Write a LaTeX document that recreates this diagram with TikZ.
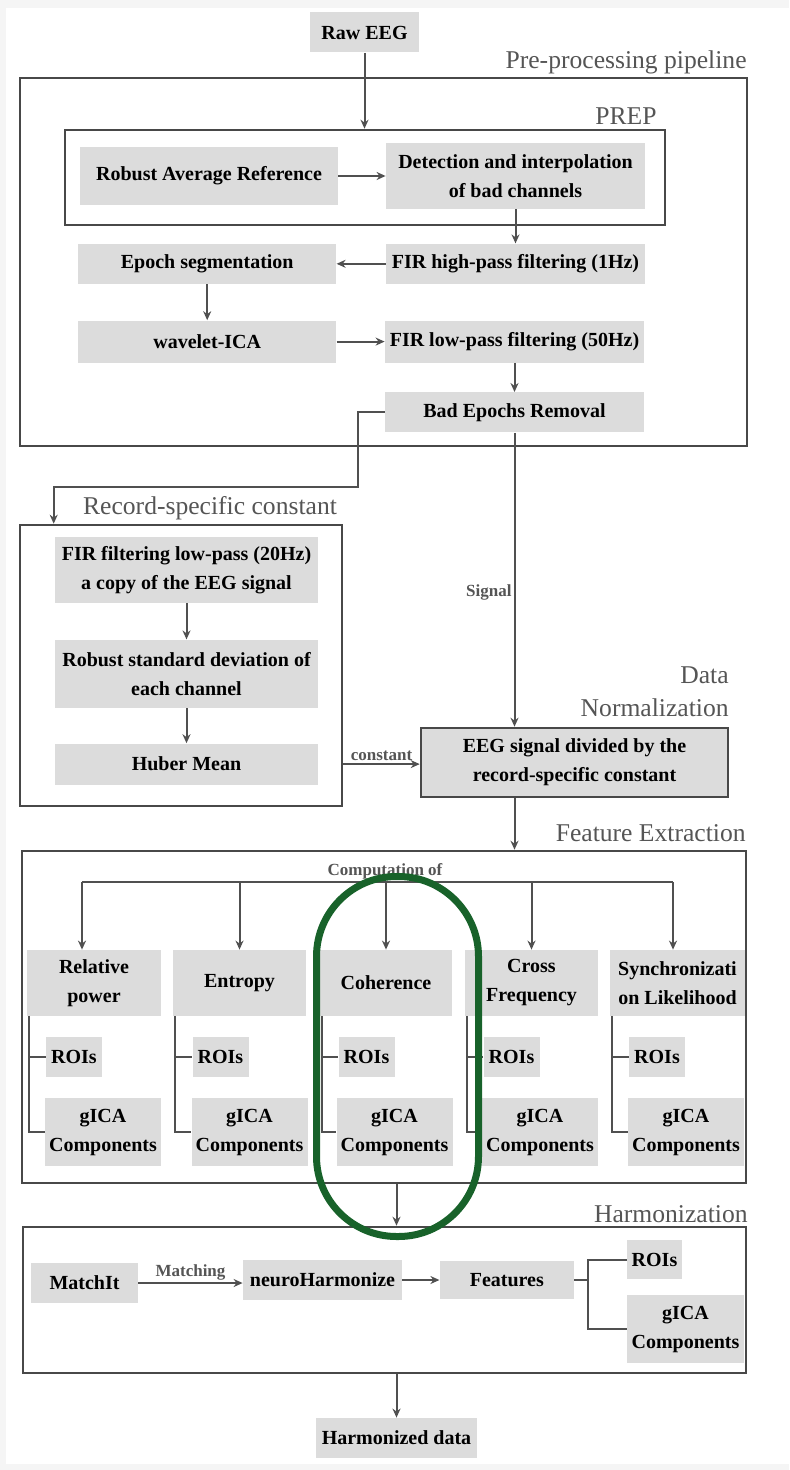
\documentclass[tikz,border=0pt]{standalone}
\usepackage{fontspec}
\setmainfont{Liberation Serif}
\usetikzlibrary{arrows.meta,positioning,calc}

\definecolor{boxgray}{RGB}{220,220,220}
\definecolor{linegray}{RGB}{80,80,80}
\definecolor{framegray}{RGB}{72,72,72}
\definecolor{labelgray}{RGB}{85,85,85}
\definecolor{ringgreen}{RGB}{24,98,42}

\tikzset{
  >={Stealth[length=4.5pt,width=4pt]},
  rectnode/.style args={#1,#2}{
  fill=boxgray,
  text=black,
  font=\fontsize{10}{14.5}\selectfont\bfseries,
  align=center,
  inner sep=0pt,
  minimum width=#1*0.5pt,
  minimum height=#2*0.5pt,
  },
  framenode/.style args={#1,#2}{
  draw=framegray,
  line width=1.3pt,
  inner sep=0pt,
  minimum width=#1*0.5pt,
  minimum height=#2*0.5pt,
  },
  conn/.style={draw=linegray,line width=1pt},
  grouplabel/.style={text=labelgray,font=\fontsize{12.8}{16.5}\selectfont,inner sep=0pt},
  edgelabel/.style={text=labelgray,font=\fontsize{8.5}{10}\selectfont\bfseries,inner sep=1pt}
}

\begin{document}
\begin{tikzpicture}[x=0.5pt,y=-0.5pt]

  \fill[black!4] (0,0) rectangle (789,1470);
  \fill[white] (6,8) rectangle (789,1464);
  \useasboundingbox (0,0) rectangle (789,1470);

  \node [rectnode={109,40}] (raw) at (364.5,32.5) {Raw EEG};

  % pre-processing
  \node [framenode={727,368}] (pre) at (383.5,262) {};
  \node [grouplabel,anchor=east] (prelbl) at (747,62) {Pre-processing pipeline};
  \node [framenode={600,95}] (prep) at (365,177.5) {};
  \node [grouplabel,anchor=east] (preplbl) at (657,116) {PREP};

  \node [rectnode={258,58}] (rar) at (209,176) {Robust Average Reference};
  \node [rectnode={259,66}] (det) at (515.5,176) {Detection and interpolation\\of bad channels};
  \node [rectnode={259,40},below=17pt of det] (hp) {FIR high-pass filtering (1Hz)};
  \node [rectnode={258,40},left=24.5pt of hp] (epo) {Epoch segmentation};
  \node [rectnode={258,42},below=18pt of epo] (wica) {wavelet-ICA};
  \node [rectnode={259,42},right=24pt of wica] (lp) {FIR low-pass filtering (50Hz)};
  \node [rectnode={259,40},below=14.5pt of lp] (bad) {Bad Epochs Removal};

  \draw [conn,->] (raw) -- (raw |- prep.north);
  \draw [conn,->] (rar) -- (det);
  \draw [conn,->] (det) -- (hp);
  \draw [conn,->] (hp) -- (epo);
  \draw [conn,->] (epo) -- (wica);
  \draw [conn,->] (wica) -- (lp);
  \draw [conn,->] (lp) -- (bad);

  % record-specific constant
  \node [framenode={322,281}] (rec) at (181,665.5) {};
  \node [grouplabel] (reclbl) at (210,508) {Record-specific constant};
  \node [rectnode={263,66}] (lpc) at (186.5,570) {FIR filtering low-pass (20Hz)\\a copy of the EEG signal};
  \node [rectnode={263,68},below=18pt of lpc] (rsd) {Robust standard deviation of\\each channel};
  \node [rectnode={263,41},below=17.5pt of rsd] (hub) {Huber Mean};

  \draw [conn,->] (bad.west) -- ++(-27,0) |- ([xshift=17.5pt,yshift=18.5pt]rec.north west) -- ([xshift=17.5pt]rec.north west);
  \draw [conn,->] (lpc) -- (rsd);
  \draw [conn,->] (rsd) -- (hub);

  % normalization
  \node [rectnode={307,69},draw=framegray,line width=1.3pt] (div) at (574.5,762.5) {EEG signal divided by the\\record-specific constant};
  \node [grouplabel,align=right,anchor=east] (normlbl) at (729,692) {Data\\Normalization};

  \draw [conn,->] (bad) -- (bad |- div.north) node[pos=.545,left,edgelabel]{Signal};
  \draw [conn,->] (rec.east |- hub) -- (div.west |- hub) node[midway,above,edgelabel]{constant};

  % features
  \node [framenode={724,332}] (feat) at (384,1017) {};
  \node [grouplabel,anchor=east] (featlbl) at (746,833) {Feature Extraction};
  \node [edgelabel] (comp) at (385,871) {Computation of};
  \draw [conn,->] (bad |- div.south) -- (bad |- feat.north);

  \node [rectnode={134,66}] (rp) at (94,983) {Relative\\power};
  \node [rectnode={133,66}] (ent) at (239.5,983) {Entropy};
  \node [rectnode={132,66}] (coh) at (386,983) {Coherence};
  \node [rectnode={133,66}] (cf) at (531.5,983) {Cross\\Frequency};
  \node [rectnode={135,66}] (sl) at (677.5,983) {Synchronizati\\on Likelihood};

  \node [rectnode={56,40}] (r1) at (74,1057) {ROIs};
  \node [rectnode={56,40}] (r2) at (220.5,1057) {ROIs};
  \node [rectnode={56,40}] (r3) at (366.5,1057) {ROIs};
  \node [rectnode={56,40}] (r4) at (511.5,1057) {ROIs};
  \node [rectnode={56,40}] (r5) at (657,1057) {ROIs};

  \node [rectnode={116,68}] (g1) at (103,1132) {gICA\\Components};
  \node [rectnode={116,68}] (g2) at (249.5,1132) {gICA\\Components};
  \node [rectnode={116,68}] (g3) at (394.5,1132) {gICA\\Components};
  \node [rectnode={116,68}] (g4) at (540,1132) {gICA\\Components};
  \node [rectnode={116,68}] (g5) at (686,1132) {gICA\\Components};

  \coordinate (busl) at (82,882);
  \coordinate (busr) at (673,882);
  \draw [conn] (busl) -- (busr);
  \draw [conn,->] (busl) -- (busl |- rp.north);
  \draw [conn,->] (ent.north |- busl) -- (ent.north);
  \draw [conn,->] (coh.north |- busl) -- (coh.north);
  \draw [conn,->] (cf.north |- busl) -- (cf.north);
  \draw [conn,->] (busr) -- (busr |- sl.north);

  \draw [conn] ([xshift=1pt]rp.south west) |- (g1.west) ([xshift=1pt]rp.south west |- r1) -- (r1.west);
  \draw [conn] ([xshift=1pt]ent.south west) |- (g2.west) ([xshift=1pt]ent.south west |- r2) -- (r2.west);
  \draw [conn] ([xshift=1pt]coh.south west) |- (g3.west) ([xshift=1pt]coh.south west |- r3) -- (r3.west);
  \draw [conn] ([xshift=1pt]cf.south west) |- (g4.west) ([xshift=1pt]cf.south west |- r4) -- (r4.west);
  \draw [conn] ([xshift=1pt]sl.south west) |- (g5.west) ([xshift=1pt]sl.south west |- r5) -- (r5.west);

  % harmonization
  \node [framenode={723,146}] (harm) at (384.5,1300) {};
  \node [grouplabel,anchor=east] (harmlbl) at (748,1214) {Harmonization};
  \node [rectnode={107,40}] (mi) at (84.5,1283) {MatchIt};
  \node [rectnode={159,40}] (nh) at (322.5,1280) {neuroHarmonize};
  \node [rectnode={134,38},right=18.5pt of nh] (fts) {Features};
  \node [rectnode={55,39}] (hroi) at (654.5,1259.5) {ROIs};
  \node [rectnode={117,68}] (hgica) at (685.5,1329) {gICA\\Components};
  \node [rectnode={161,40}] (hd) at (396.5,1438) {Harmonized data};

  \draw [conn,->] (hd |- feat.south) -- (hd |- harm.north);
  \draw [conn,->] (mi) -- (mi -| nh.west) node[midway,above,edgelabel]{Matching};
  \draw [conn,->] (nh) -- (fts);
  \draw [conn] (fts.east) -- ++(14,0) coordinate (fork);
  \draw [conn] (hroi.west) -| (fork) |- (hgica.west);
  \draw [conn,->] (hd |- harm.south) -- (hd);

  % highlight
  \draw [ringgreen,line width=3.5pt,rounded corners=40pt] (316.5,876.5) rectangle (478.5,1236.5);

\end{tikzpicture}
\end{document}
